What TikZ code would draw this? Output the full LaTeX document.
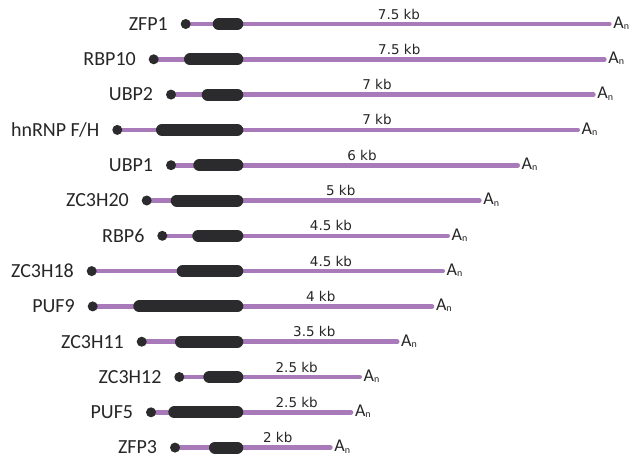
\documentclass[tikz,border=0pt]{standalone}
\usepackage{fontspec}
\setmainfont{Carlito}
\newfontfamily\kbfont{DejaVu Sans}
\definecolor{rnapurple}{RGB}{168,122,186}
\definecolor{cdsgray}{RGB}{43,43,46}
\definecolor{txtgray}{RGB}{38,38,38}
\tikzset{
  rna/.style={draw=rnapurple, line width=4.6pt, line cap=round},
  cds/.style={draw=cdsgray, line width=12pt, line cap=round},
  capdot/.style={circle, fill=cdsgray, inner sep=0pt, minimum size=10pt},
  genelab/.style={inner sep=0pt, text=txtgray, font=\fontsize{20}{22}\selectfont, anchor=base east},
  kblab/.style={inner sep=0pt, text=txtgray, font=\kbfont\fontsize{13.5}{15}\selectfont, anchor=base},
  anlab/.style={inner sep=0pt, text=txtgray, font=\fontsize{18}{20}\selectfont, anchor=base west}
}
\begin{document}
\begin{tikzpicture}[x=1pt,y=-1pt]
\useasboundingbox (0,0) rectangle (639,463);
\foreach \i/\name/\dx/\bs/\le/\kb/\kx in {
  1/ZFP1/185.7/212.7/611.7/7.5/399,
  2/RBP10/153.7/184/606.7/7.5/399.3,
  3/UBP2/171/201.7/595.7/7/377,
  4/{hnRNP F/H}/117.3/156/580/7/377,
  5/UBP1/171/193.3/520/6/362,
  6/ZC3H20/146.7/170.7/481.7/5/340.7,
  7/RBP6/162.3/192.3/450/4.5/331,
  8/ZC3H18/91.7/176.7/445/4.5/331,
  9/PUF9/92.7/133.3/434.3/4/320.7,
  10/ZC3H11/141.7/175/399.5/3.5/314.3,
  11/ZC3H12/179.3/203.3/362/2.5/296.7,
  12/PUF5/151/168.3/353.3/2.5/296.7,
  13/ZFP3/175/209/332.7/2/277.7}{
  \pgfmathsetmacro\yy{24+35.3*(\i-1)}
  \coordinate (s\i) at (\dx,\yy);
  \coordinate (e\i) at (\le-2.3,\yy);
  \coordinate (bs\i) at (\bs+6,\yy);
  \coordinate (be\i) at (237.3,\yy);
  \draw[rna] (s\i) -- (e\i);
  \draw[cds] (bs\i) -- (be\i);
  \node[capdot] (d\i) at (s\i) {};
  \node[genelab] (g\i) at (\dx-17.7,\yy+6.3) {\name};
  \node[kblab] (k\i) at (\kx,\yy-5) {\kb\ kb};
  \node[anlab] (a\i) at (\le+1.5,\yy+4.3) {A\raisebox{-1.2pt}{\fontsize{10}{10}\selectfont n}};
}
\end{tikzpicture}
\end{document}
